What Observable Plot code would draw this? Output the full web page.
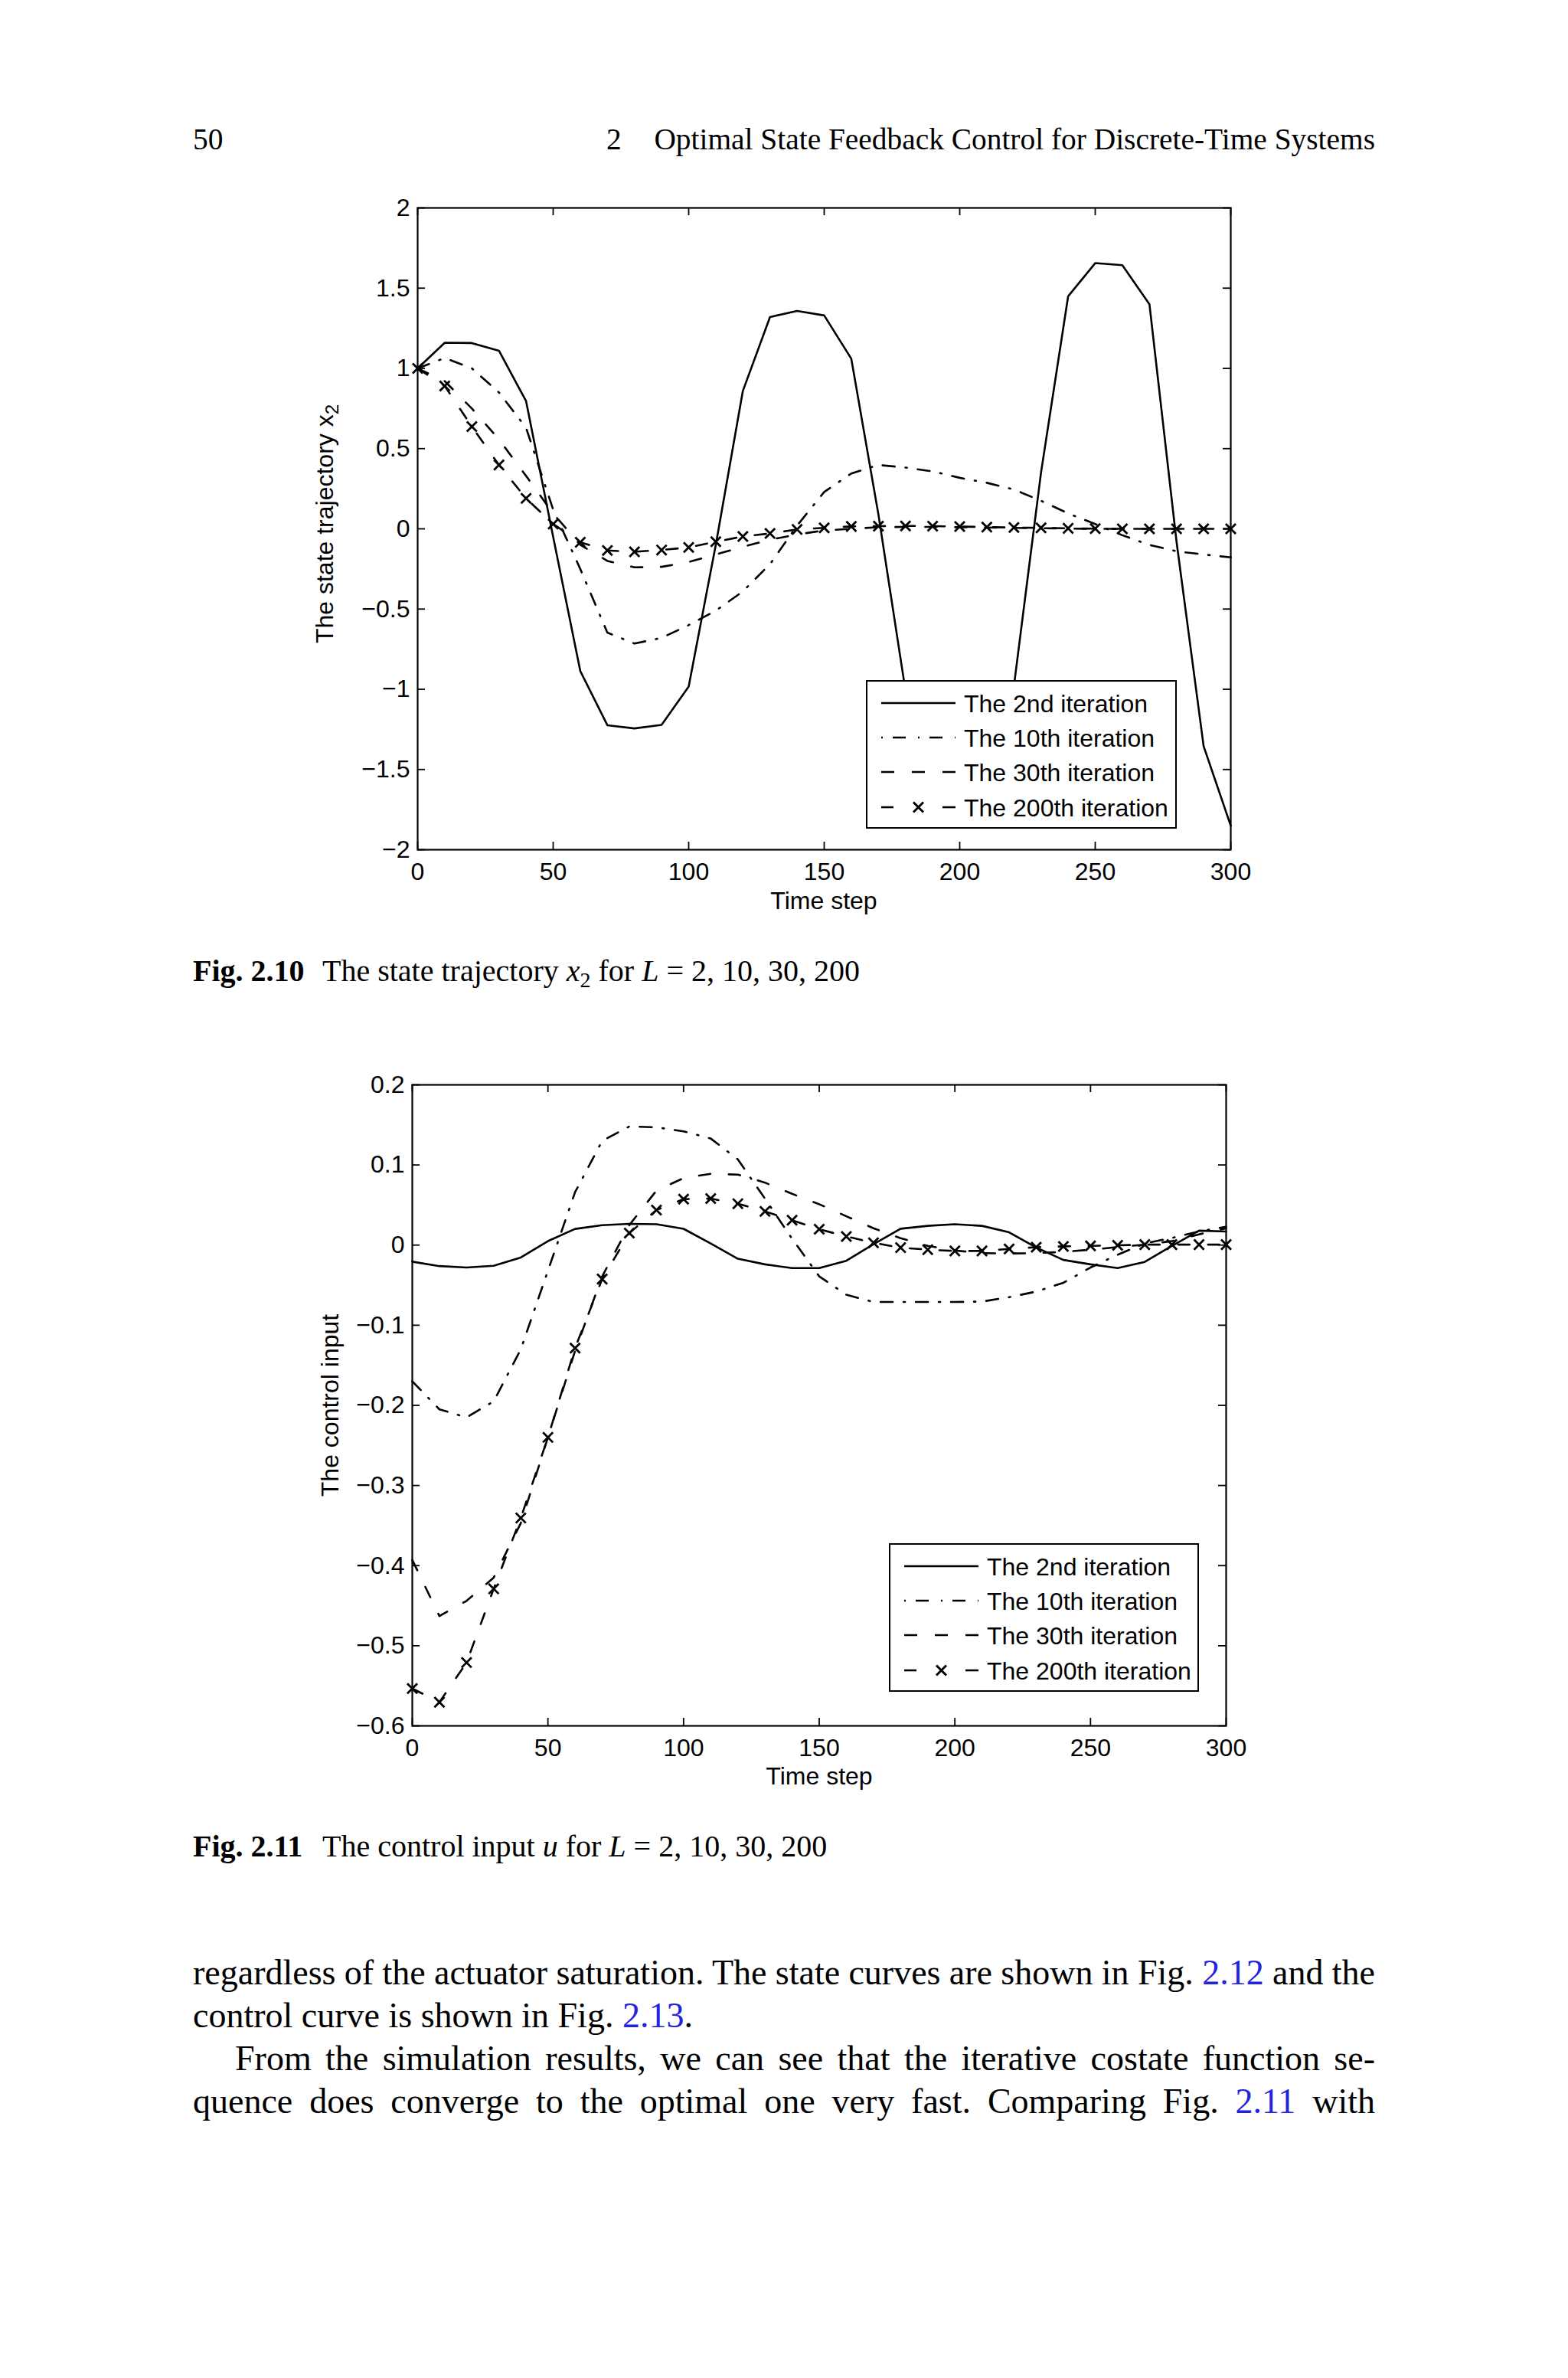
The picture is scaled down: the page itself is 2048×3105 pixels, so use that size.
<!DOCTYPE html>
<html>
<head>
<meta charset="utf-8">
<script src="https://cdn.jsdelivr.net/npm/d3@7"></script>
<script src="https://cdn.jsdelivr.net/npm/@observablehq/plot@0.6"></script>
<style>
  html, body { margin: 0; padding: 0; background: #fff; }
  #page { position: relative; width: 2048px; height: 3105px; background: #fff; overflow: hidden; color: #000; }
  .lk { color: #2323dd; }
</style>
</head>
<body>
<div id="page"></div>
<script>
// ---------------- data ----------------
const steps = [0, 10, 20, 30, 40, 50, 60, 70, 80, 90, 100, 110, 120, 130, 140, 150, 160, 170, 180, 190, 200, 210, 220, 230, 240, 250, 260, 270, 280, 290, 300];

const seriesNames = ["The 2nd iteration", "The 10th iteration", "The 30th iteration", "The 200th iteration"];

// Fig 2.10 : state trajectory x2
const x2Iter2 = [1.0, 1.16, 1.158, 1.11, 0.796, -0.05, -0.886, -1.224, -1.244, -1.222, -0.983, -0.1, 0.86, 1.32, 1.358, 1.33, 1.06, 0.09, -1.01, -1.47, -1.5, -1.47, -0.98, 0.35, 1.449, 1.656, 1.643, 1.40, -0.08, -1.355, -1.85];
const x2Iter10 = [1.0, 1.065, 1.0, 0.85, 0.63, 0.12, -0.25, -0.647, -0.715, -0.68, -0.60, -0.51, -0.39, -0.22, 0.02, 0.23, 0.345, 0.398, 0.382, 0.358, 0.318, 0.287, 0.245, 0.175, 0.096, 0.03, -0.04, -0.1, -0.14, -0.16, -0.178];
const x2Iter30 = [1.0, 0.92, 0.75, 0.557, 0.33, 0.096, -0.1, -0.2, -0.24, -0.237, -0.207, -0.16, -0.112, -0.068, -0.035, -0.01, 0.0, 0.01, 0.012, 0.012, 0.01, 0.008, 0.006, 0.004, 0.002, 0.0, 0.0, 0.0, 0.0, 0.0, 0.0];
const x2Iter200 = [1.0, 0.89, 0.637, 0.398, 0.19, 0.03, -0.084, -0.135, -0.143, -0.132, -0.116, -0.08, -0.048, -0.029, -0.004, 0.006, 0.015, 0.017, 0.018, 0.017, 0.014, 0.011, 0.008, 0.006, 0.003, 0.001, 0.0, 0.0, 0.0, 0.0, 0.0];

// Fig 2.11 : control input u
const uIter2 = [-0.0207, -0.0262, -0.028, -0.0258, -0.0155, 0.005, 0.0202, 0.0248, 0.0265, 0.026, 0.0203, 0.002, -0.017, -0.024, -0.0287, -0.0287, -0.0195, 0.001, 0.0204, 0.024, 0.026, 0.024, 0.016, -0.003, -0.0185, -0.024, -0.0287, -0.021, -0.001, 0.018, 0.017];
const uIter10 = [-0.17, -0.205, -0.215, -0.195, -0.13, -0.032, 0.066, 0.13, 0.148, 0.147, 0.142, 0.133, 0.107, 0.058, 0.008, -0.039, -0.062, -0.071, -0.071, -0.071, -0.071, -0.0705, -0.065, -0.058, -0.047, -0.028, -0.012, 0.002, 0.009, 0.017, 0.023];
const uIter30 = [-0.393, -0.463, -0.444, -0.415, -0.347, -0.24, -0.132, -0.039, 0.025, 0.068, 0.0836, 0.089, 0.088, 0.078, 0.064, 0.051, 0.036, 0.021, 0.0086, -0.001, -0.0067, -0.01, -0.0105, -0.01, -0.0085, -0.0057, -0.0025, 0.0006, 0.005, 0.0134, 0.021];
const uIter200 = [-0.5534, -0.5705, -0.521, -0.429, -0.3406, -0.24, -0.1285, -0.0424, 0.015, 0.0437, 0.0574, 0.058, 0.0517, 0.042, 0.031, 0.0198, 0.0108, 0.0029, -0.0032, -0.0057, -0.0073, -0.0073, -0.0048, -0.0026, -0.0016, -0.001, -0.0003, 0.0006, 0.0006, 0.0006, 0.0006];

const xTicks = [0, 50, 100, 150, 200, 250, 300];
const yTicks1 = [-2, -1.5, -1, -0.5, 0, 0.5, 1, 1.5, 2];
const yTicks2 = [-0.6, -0.5, -0.4, -0.3, -0.2, -0.1, 0, 0.1, 0.2];

// ---------------- styles ----------------
const SERIF = '"Liberation Serif", "Times New Roman", serif';
const SANS = '"Liberation Sans", Arial, Helvetica, sans-serif';
const LW = 2.6;
const dashStyles = [null, "16,14,2,14", "15,24", "15,24"];
const page = document.getElementById("page");
const NS = "http://www.w3.org/2000/svg";

function fmt(d) { return d < 0 ? "\u2212" + String(-d) : String(d); }

function makeChart(series, yDomain, yTicks, W, H, m) {
  const FW = W - m.left - m.right, FH = H - m.top - m.bottom;
  const rows = series.map(vals => steps.map((t, i) => ({t, v: vals[i]})));
  const marks = [];
  rows.forEach((r, i) => {
    const o = {x: "t", y: "v", stroke: "#000", strokeWidth: LW, strokeLinejoin: "round"};
    if (dashStyles[i]) o.strokeDasharray = dashStyles[i];
    marks.push(Plot.line(r, o));
  });
  marks.push(Plot.dot(rows[3], {x: "t", y: "v", symbol: "times", r: 6, stroke: "#000", strokeWidth: 2.8}));
  marks.push(
    Plot.frame({stroke: "#000", strokeWidth: 2.2}),
    Plot.tickX(xTicks, {x: d => d, insetTop: FH - 10, stroke: "#000", strokeWidth: 1.8}),
    Plot.tickX(xTicks, {x: d => d, insetBottom: FH - 10, stroke: "#000", strokeWidth: 1.8}),
    Plot.tickY(yTicks, {y: d => d, insetRight: FW - 10, stroke: "#000", strokeWidth: 1.8}),
    Plot.tickY(yTicks, {y: d => d, insetLeft: FW - 10, stroke: "#000", strokeWidth: 1.8}),
    Plot.axisX({ticks: xTicks, tickSize: 0, tickPadding: 17, fontSize: 32, label: null, tickFormat: fmt}),
    Plot.axisY({ticks: yTicks, tickSize: 0, tickPadding: 10, fontSize: 32, label: null, tickFormat: fmt})
  );
  const svg = Plot.plot({
    width: W, height: H,
    marginLeft: m.left, marginRight: m.right, marginTop: m.top, marginBottom: m.bottom,
    x: {domain: [0, 300]},
    y: {domain: yDomain},
    style: {fontFamily: SANS, fontSize: "32px", color: "#000", background: "transparent", overflow: "visible"},
    marks
  });
  svg.style.position = "absolute";
  svg.style.left = m.x + "px";
  svg.style.top = m.y + "px";
  page.appendChild(svg);
}

function text(html, o) {
  const d = document.createElement("div");
  d.innerHTML = html;
  const asc = o.family === SANS ? 0.8465 : 0.8375;
  Object.assign(d.style, {
    position: "absolute",
    fontFamily: o.family || SERIF,
    fontSize: o.size + "px",
    lineHeight: o.size + "px",
    top: (o.baseline - asc * o.size) + "px",
    whiteSpace: o.justify ? "normal" : "nowrap",
    fontWeight: o.weight || "normal"
  });
  if (o.left != null) d.style.left = o.left + "px";
  if (o.right != null) d.style.right = o.right + "px";
  if (o.width != null) d.style.width = o.width + "px";
  if (o.align) d.style.textAlign = o.align;
  if (o.justify) { d.style.textAlign = "justify"; d.style.textAlignLast = "justify"; }
  if (o.wordSpacing) d.style.wordSpacing = o.wordSpacing + "px";
  page.appendChild(d);
  return d;
}

function yLabel(html, cx, cy) {
  const d = document.createElement("div");
  d.innerHTML = html;
  Object.assign(d.style, {
    position: "absolute", left: cx + "px", top: cy + "px",
    fontFamily: SANS, fontSize: "32px", lineHeight: "32px", whiteSpace: "nowrap",
    transform: "translate(-50%,-50%) rotate(-90deg)"
  });
  page.appendChild(d);
}

function legend(left, top, w, h) {
  const svg = document.createElementNS(NS, "svg");
  svg.setAttribute("width", w); svg.setAttribute("height", h);
  Object.assign(svg.style, {position: "absolute", left: left + "px", top: top + "px", overflow: "visible"});
  const rect = document.createElementNS(NS, "rect");
  rect.setAttribute("x", 1); rect.setAttribute("y", 1);
  rect.setAttribute("width", w - 2); rect.setAttribute("height", h - 2);
  rect.setAttribute("fill", "#fff"); rect.setAttribute("stroke", "#000"); rect.setAttribute("stroke-width", 2);
  svg.appendChild(rect);
  const rowsY = [30, 75, 120, 166];
  const sx0 = 20, sx1 = 117, tx = 128;
  const sampleDash = [null, "2,13,17,16", "17,23", null];
  seriesNames.forEach((name, i) => {
    const cy = rowsY[i];
    const addLine = (x1, x2, dash) => {
      const l = document.createElementNS(NS, "line");
      l.setAttribute("x1", x1); l.setAttribute("x2", x2);
      l.setAttribute("y1", cy); l.setAttribute("y2", cy);
      l.setAttribute("stroke", "#000"); l.setAttribute("stroke-width", LW);
      if (dash) l.setAttribute("stroke-dasharray", dash);
      svg.appendChild(l);
    };
    if (i < 3) addLine(sx0, sx1, sampleDash[i]);
    else {
      addLine(sx0, sx0 + 16, null);
      addLine(sx1 - 17, sx1, null);
      const mx = (sx0 + sx1) / 2, r = 6.5;
      const p = document.createElementNS(NS, "path");
      p.setAttribute("d", `M${mx - r},${cy - r}L${mx + r},${cy + r}M${mx - r},${cy + r}L${mx + r},${cy - r}`);
      p.setAttribute("stroke", "#000"); p.setAttribute("stroke-width", 3);
      svg.appendChild(p);
    }
    const t = document.createElementNS(NS, "text");
    t.setAttribute("x", tx); t.setAttribute("y", cy + 11.5);
    t.setAttribute("font-family", SANS); t.setAttribute("font-size", 32);
    t.textContent = name;
    svg.appendChild(t);
  });
  page.appendChild(svg);
}

// ---------------- page header ----------------
text("50", {left: 252, baseline: 196, size: 39.4});
text("2", {left: 792, baseline: 196, size: 39.4});
text("Optimal State Feedback Control for Discrete-Time Systems", {right: 252, baseline: 196, size: 39.4});

// ---------------- Fig 2.10 ----------------
makeChart([x2Iter2, x2Iter10, x2Iter30, x2Iter200], [-2, 2], yTicks1, 1360, 1000,
  {x: 300, y: 221, left: 245, right: 53, top: 50, bottom: 112});
legend(1131, 888, 406, 194);
yLabel('The state trajectory x<span style="font-size:0.75em;position:relative;top:0.3em">2</span>', 425, 684);
text("Time step", {left: 876, width: 400, align: "center", baseline: 1187, size: 32, family: SANS});
text('<b>Fig. 2.10</b>', {left: 252, baseline: 1281, size: 40});
text('The state trajectory <i>x</i><span style="font-size:0.7em;position:relative;top:0.3em">2</span> for <i>L</i> = 2, 10, 30, 200', {left: 421, baseline: 1281, size: 40});

// ---------------- Fig 2.11 ----------------
makeChart([uIter2, uIter10, uIter30, uIter200], [-0.6, 0.2], yTicks2, 1360, 1000,
  {x: 300, y: 1366, left: 238, right: 59, top: 50, bottom: 113});
legend(1161, 2015, 405, 194);
yLabel('The control input', 431, 1835);
text("Time step", {left: 870, width: 400, align: "center", baseline: 2330, size: 32, family: SANS});
text('<b>Fig. 2.11</b>', {left: 252, baseline: 2424, size: 40});
text('The control input <i>u</i> for <i>L</i> = 2, 10, 30, 200', {left: 421, baseline: 2424, size: 40});

// ---------------- body text ----------------
text('regardless of the actuator saturation. The state curves are shown in Fig. <span class="lk">2.12</span> and the',
  {left: 252, width: 1544, baseline: 2592, size: 46, justify: true, wordSpacing: -1});
text('control curve is shown in Fig. <span class="lk">2.13</span>.', {left: 252, baseline: 2648, size: 46});
text('From the simulation results, we can see that the iterative costate function se-',
  {left: 307, width: 1489, baseline: 2704, size: 46, justify: true});
text('quence does converge to the optimal one very fast. Comparing Fig. <span class="lk">2.11</span> with',
  {left: 252, width: 1544, baseline: 2760, size: 46, justify: true});
</script>
</body>
</html>
